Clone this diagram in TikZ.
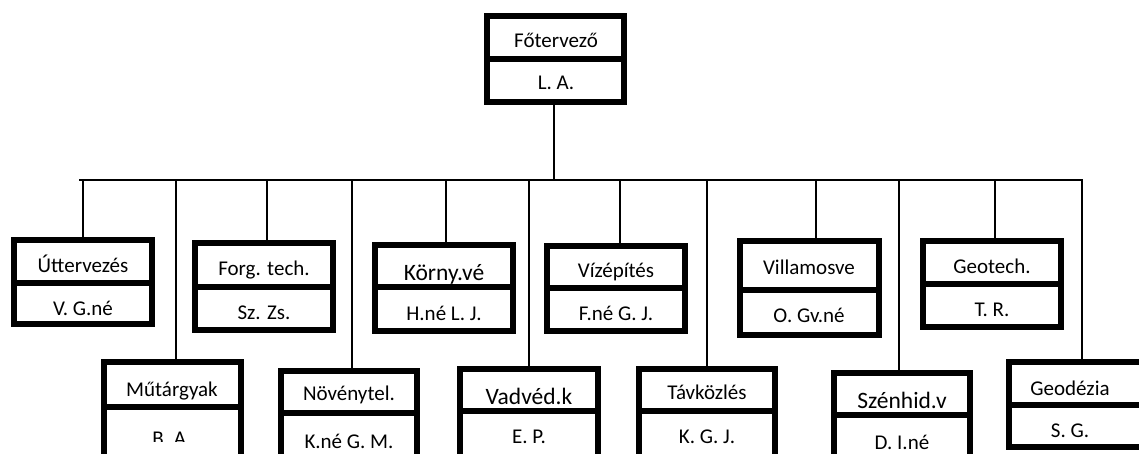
\documentclass[tikz,border=0pt]{standalone}
\usepackage{fontspec}
\setmainfont{Carlito}
\newcommand\obox[6]{%
  \node[obox, minimum width={(#4-#2-6)*1pt}, minimum height={(#5-#3-6)*1pt}] (#1) at ({(#2+#4)/2},{(#3+#5)/2}) {};
  \draw[divl] ({#2+3},#6) -- ({#4-3},#6);}
\begin{document}
\begin{tikzpicture}[x=1pt,y=-1pt,
  obox/.style={draw, line width=6pt, inner sep=0pt, rectangle},
  divl/.style={line width=6pt},
  conn/.style={line width=2pt},
  lbl/.style={font=\fontsize{21}{24}\selectfont, anchor=base, inner sep=0pt},
  big/.style={font=\fontsize{23.5}{27}\selectfont}]
\useasboundingbox (0,0) rectangle (1139,454);

% texts
\node[lbl] (fo-a) at (556,48) {Főtervező};
\node[lbl] (fo-b) at (556,90) {L. A.};
\node[lbl] (ut-a) at (83,272) {Úttervezés};
\node[lbl] (ut-b) at (83,315) {V. G.né};
\node[lbl] (fg-a) at (264,275) {Forg. tech.};
\node[lbl] (fg-b) at (264,319) {Sz. Zs.};
\node[lbl] (ko-a) at (444,280) [big] {Körny.vé};
\node[lbl] (ko-b) at (444,320) {H.né L. J.};
\node[lbl] (vz-a) at (616,277) {Vízépítés};
\node[lbl] (vz-b) at (616,320) {F.né G. J.};
\node[lbl] (vi-a) at (809,274) {Villamosve};
\node[lbl] (vi-b) at (809,322) {O. Gv.né};
\node[lbl] (ge-a) at (992,273) {Geotech.};
\node[lbl] (ge-b) at (992,316) {T. R.};
\node[lbl] (mu-a) at (172,396) {Műtárgyak};
\begin{scope}
  \clip (101,407) rectangle (244,441.5);
  \node[lbl] (mu-b) at (172,445) {B. A.};
\end{scope}
\node[lbl] (nv-a) at (349,400) {Növénytel.};
\node[lbl] (nv-b) at (349,448) {K.né G. M.};
\node[lbl] (vd-a) at (529,404) [big] {Vadvéd.k};
\node[lbl] (vd-b) at (529,443) {E. P.};
\node[lbl] (tv-a) at (707,399) {Távközlés};
\node[lbl] (tv-b) at (707,443) {K. G. J.};
\node[lbl] (sz-a) at (902,408) [big] {Szénhid.v};
\node[lbl] (sz-b) at (902,449) {D. I.né};
\node[lbl] (gd-a) at (1070,395) {Geodézia};
\node[lbl] (gd-b) at (1070,437) {S. G.};

% boxes: name, left, top, right, bottom, divider
\obox{fo}{484}{13}{627}{105}{59}
\obox{ut}{11}{237}{155}{327}{283}
\obox{fg}{192}{240}{336}{333}{287}
\obox{ko}{372}{242}{516}{334}{287}
\obox{vz}{544}{243}{688}{334}{288}
\obox{vi}{737}{238}{882}{338}{290}
\obox{ge}{920}{238}{1064}{330}{284}
\obox{mu}{101}{359}{244}{475}{407}
\obox{nv}{278}{368}{420}{475}{413}
\obox{vd}{457}{366}{601}{475}{411}
\obox{tv}{636}{366}{778}{475}{411}
\obox{sz}{831}{370}{973}{475}{415}
\obox{gd}{1006}{359}{1150}{450}{405}

% connectors
\coordinate (busL) at (79,180.5);
\coordinate (busR) at (1083,180.5);
\coordinate (j) at (554,180.5);
\draw[conn] (busL) -- (busR);
\draw[conn] (fo.south -| j) -- (j);
\foreach \n/\x in {ut/83, mu/176, fg/267, nv/352, ko/446, vd/529, vz/620, tv/707, vi/816, sz/899, ge/995, gd/1082}{
  \coordinate (d-\n) at (\x,180.5);
  \draw[conn] (d-\n) -- (d-\n |- \n.north);
}
\end{tikzpicture}
\end{document}
